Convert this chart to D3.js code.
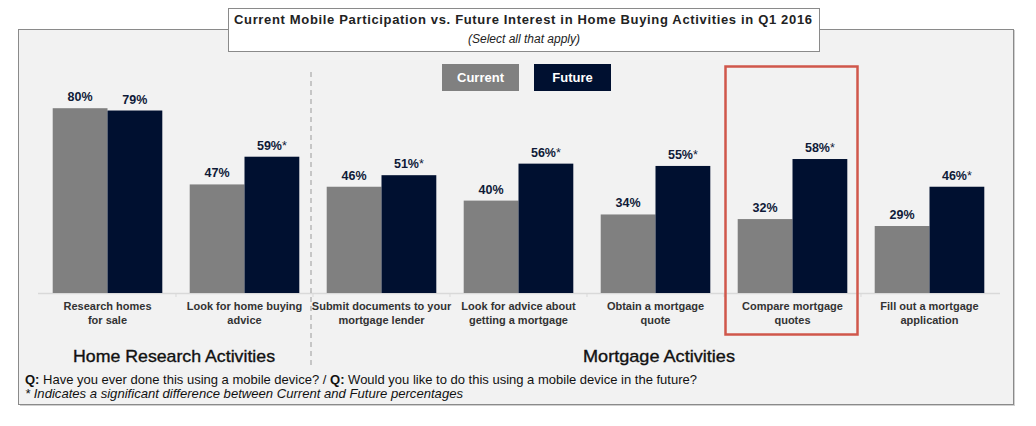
<!DOCTYPE html>
<html><head><meta charset="utf-8">
<script src="https://cdn.jsdelivr.net/npm/d3@7"></script>
<style>
body{margin:0;background:#fff;}
svg{display:block;font-family:"Liberation Sans",Arial,sans-serif;}
</style></head><body>
<script>
const categories = [
  ["Research homes","for sale"],
  ["Look for home buying","advice"],
  ["Submit documents to your","mortgage lender"],
  ["Look for advice about","getting a mortgage"],
  ["Obtain a mortgage","quote"],
  ["Compare mortgage","quotes"],
  ["Fill out a mortgage","application"]
];
const currentValues = [80, 47, 46, 40, 34, 32, 29];
const futureValues  = [79, 59, 51, 56, 55, 58, 46];
const significant   = [false, true, true, true, true, true, true];
const seriesNames = ["Current", "Future"];
const seriesColors = ["#808080", "#001030"];

const W = 1036, H = 426;
const svg = d3.select("body").append("svg").attr("width", W).attr("height", H);

// outer panel
svg.append("rect").attr("x", 20).attr("y", 30).attr("width", 995).attr("height", 376)
  .attr("fill", "#d0d0d0");
svg.append("rect").attr("x", 18.5).attr("y", 29.5).attr("width", 995).attr("height", 375)
  .attr("fill", "#f2f2f2").attr("stroke", "#8a8a8a").attr("stroke-width", 1);

const idx = d3.range(categories.length);
const x = d3.scaleBand().domain(idx).range([39, 998]).paddingInner(0.2).paddingOuter(0.1);
const xs = d3.scaleBand().domain([0, 1]).range([0, x.bandwidth()]);
const y = d3.scaleLinear().domain([0, 100]).range([293, 62]);

// baseline
svg.append("line").attr("x1", 38).attr("x2", 1000).attr("y1", 293.5).attr("y2", 293.5)
  .attr("stroke", "#d9d9d9").attr("stroke-width", 1.5);
idx.slice(1).forEach(i => {
  const tx = x(i) - x.step() * x.paddingInner() / 2;
  svg.append("line").attr("x1", tx).attr("x2", tx).attr("y1", 293).attr("y2", 297)
    .attr("stroke", "#d9d9d9");
});

// bars
const data = idx.map(i => ({i, vals: [currentValues[i], futureValues[i]]}));
const g = svg.selectAll("g.grp").data(data).join("g").attr("class", "grp")
  .attr("transform", d => `translate(${x(d.i)},0)`);
g.selectAll("rect").data(d => d.vals.map((v, s) => ({v, s})))
  .join("rect")
  .attr("x", d => xs(d.s)).attr("width", xs.bandwidth())
  .attr("y", d => y(d.v)).attr("height", d => y(0) - y(d.v))
  .attr("fill", d => seriesColors[d.s]);

// value labels
g.each(function(d) {
  d.vals.forEach((v, s) => {
    const t = d3.select(this).append("text")
      .attr("x", xs(s) + xs.bandwidth() / 2).attr("y", y(v) - 7)
      .attr("text-anchor", "middle").attr("font-size", 12.5).attr("font-weight", "bold")
      .attr("fill", "#0f1a38").text(v + "%");
    if (s === 1 && significant[d.i]) t.append("tspan").attr("font-weight", "normal").text("*");
  });
});

// category labels
g.each(function(d) {
  const lines = categories[d.i];
  lines.forEach((ln, k) => {
    d3.select(this).append("text").attr("x", x.bandwidth() / 2).attr("y", 310 + k * 14)
      .attr("text-anchor", "middle").attr("font-size", 11).attr("font-weight", "bold")
      .attr("fill", "#333").text(ln);
  });
});

// dashed divider
svg.append("line").attr("x1", 311).attr("x2", 311).attr("y1", 72).attr("y2", 366)
  .attr("stroke", "#9a9a9a").attr("stroke-width", 1).attr("stroke-dasharray", "5,4");

// section labels
svg.append("text").attr("x", 73).attr("y", 362)
  .attr("font-size", 17).attr("fill", "#111").attr("stroke", "#111").attr("stroke-width", 0.35)
  .attr("textLength", 202).attr("lengthAdjust", "spacingAndGlyphs").text("Home Research Activities");
svg.append("text").attr("x", 583).attr("y", 362)
  .attr("font-size", 17).attr("fill", "#111").attr("stroke", "#111").attr("stroke-width", 0.35)
  .attr("textLength", 152).attr("lengthAdjust", "spacingAndGlyphs").text("Mortgage Activities");

// legend
const legX = [442, 534];
seriesNames.forEach((n, s) => {
  svg.append("rect").attr("x", legX[s]).attr("y", 64).attr("width", 77).attr("height", 27)
    .attr("fill", seriesColors[s]);
  svg.append("text").attr("x", legX[s] + 38.5).attr("y", 82).attr("text-anchor", "middle")
    .attr("font-size", 13).attr("font-weight", "bold").attr("fill", "#fff").text(n);
});

// highlight box
svg.append("rect").attr("x", 725.5).attr("y", 66.5).attr("width", 132).attr("height", 268)
  .attr("fill", "none").attr("stroke", "#d0574b").attr("stroke-width", 2.5);

// title box
svg.append("rect").attr("x", 228.5).attr("y", 8.5).attr("width", 591).attr("height", 43)
  .attr("fill", "#fff").attr("stroke", "#8a8a8a");
svg.append("text").attr("x", 234).attr("y", 24)
  .attr("font-size", 13).attr("font-weight", "bold").attr("fill", "#222")
  .attr("textLength", 578).attr("lengthAdjust", "spacing")
  .text("Current Mobile Participation vs. Future Interest in Home Buying Activities in Q1 2016");
svg.append("text").attr("x", 524).attr("y", 43).attr("text-anchor", "middle")
  .attr("font-size", 12).attr("font-style", "italic").attr("fill", "#222")
  .text("(Select all that apply)");

// footnotes
const f1 = svg.append("text").attr("x", 25).attr("y", 384).attr("font-size", 13)
  .attr("fill", "#111").attr("textLength", 672).attr("lengthAdjust", "spacingAndGlyphs");
f1.append("tspan").attr("font-weight", "bold").text("Q:");
f1.append("tspan").text(" Have you ever done this using a mobile device? / ");
f1.append("tspan").attr("font-weight", "bold").text("Q:");
f1.append("tspan").text(" Would you like to do this using a mobile device in the future?");
svg.append("text").attr("x", 25).attr("y", 398).attr("font-size", 13).attr("font-style", "italic")
  .attr("fill", "#111").attr("textLength", 438).attr("lengthAdjust", "spacingAndGlyphs")
  .text("* Indicates a significant difference between Current and Future percentages");
</script>
</body></html>
